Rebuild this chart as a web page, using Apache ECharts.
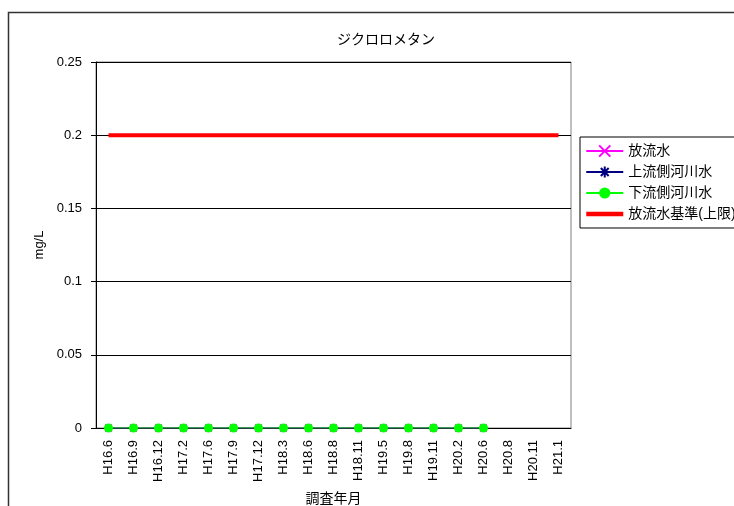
<!DOCTYPE html>
<html><head><meta charset="utf-8">
<script src="https://cdn.jsdelivr.net/npm/echarts@6/dist/echarts.min.js"></script>
<style>html,body{margin:0;padding:0;background:#fff}#c{width:734px;height:506px}</style>
</head><body><div id="c"></div>
<script>
const categories = ['H16.6','H16.9','H16.12','H17.2','H17.6','H17.9','H17.12','H18.3','H18.6','H18.8','H18.11','H19.5','H19.8','H19.11','H20.2','H20.6','H20.8','H20.11','H21.1'];
const effluent = [0,0,0,0,0,0,0,0,0,0,0,0,0,0,0,0,null,null,null];
const upstream = [0,0,0,0,0,0,0,0,0,0,0,0,0,0,0,0,null,null,null];
const downstream = [0,0,0,0,0,0,0,0,0,0,0,0,0,0,0,0,null,null,null];
const standard = [0.2,0.2,0.2,0.2,0.2,0.2,0.2,0.2,0.2,0.2,0.2,0.2,0.2,0.2,0.2,0.2,0.2,0.2,0.2];
const seriesNames = ['放流水','上流側河川水','下流側河川水','放流水基準(上限)'];
const yTicks = {min:0, max:0.25, interval:0.05};

const FONT = '"Liberation Sans", Arial, "Noto Sans CJK JP", sans-serif';
const chart = echarts.init(document.getElementById('c'));
chart.setOption({
  animation:false,
  textStyle:{fontFamily:FONT},
  title:{text:'ジクロロメタン', left:381, top:28, textAlign:'center',
    textStyle:{fontFamily:FONT, fontSize:14, fontWeight:'normal', color:'#000'}},
  graphic:[{type:'rect', shape:{x:8.5,y:12.5,width:800,height:600},
    style:{fill:'none', stroke:'#333', lineWidth:1.5}, silent:true, z:-1}],
  legend:{orient:'vertical', left:580, top:137, width:200,
    backgroundColor:'#fff', borderColor:'#000', borderWidth:1,
    padding:[7,6,7,4], itemWidth:37, itemHeight:14, itemGap:7,
    textStyle:{fontFamily:FONT, fontSize:14, color:'#000'},
    data:[seriesNames[0], seriesNames[1], seriesNames[2], {name:seriesNames[3], lineStyle:{width:4.5}}]},
  grid:{left:96, top:62, right:163, bottom:78, containLabel:false, outerBoundsMode:'none',
    show:true, borderColor:'#808080', borderWidth:1},
  xAxis:{type:'category', data:categories, boundaryGap:true,
    name:'調査年月', nameLocation:'middle', nameGap:64,
    nameTextStyle:{fontFamily:FONT, fontSize:14, color:'#000'},
    axisLine:{lineStyle:{color:'#000', width:1}},
    axisTick:{inside:true, length:4, lineStyle:{color:'#000'}},
    axisLabel:{rotate:90, interval:0, margin:12, fontSize:13, color:'#000', fontFamily:FONT},
    splitLine:{show:false}},
  yAxis:{type:'value', min:yTicks.min, max:yTicks.max, interval:yTicks.interval,
    name:'mg/L', nameLocation:'middle', nameGap:42,
    nameTextStyle:{fontFamily:FONT, fontSize:13, color:'#000'},
    axisLine:{show:true, lineStyle:{color:'#000', width:1}},
    axisTick:{show:true, length:5, lineStyle:{color:'#000'}},
    axisLabel:{fontSize:13, color:'#000', margin:14, fontFamily:FONT},
    splitLine:{lineStyle:{color:'#000', width:1}}},
  series:[
    {name:seriesNames[0], type:'line', data:effluent, symbol:'path://M0,0L10,10M10,0L0,10', symbolSize:7,
      lineStyle:{color:'#ff00ff', width:1}, itemStyle:{color:'#ff00ff', borderColor:'#ff00ff', borderWidth:1.2}, z:2},
    {name:seriesNames[1], type:'line', data:upstream, symbol:'path://M5,0L5,10M0,5L10,5M1.5,1.5L8.5,8.5M8.5,1.5L1.5,8.5', symbolSize:8,
      lineStyle:{color:'#000080', width:1}, itemStyle:{color:'#000080', borderColor:'#000080', borderWidth:1.2}, z:3},
    {name:seriesNames[2], type:'line', data:downstream, symbol:'circle', symbolSize:9,
      lineStyle:{color:'#00ff00', width:1}, itemStyle:{color:'#00ff00', borderColor:'#00ff00', borderWidth:0}, z:4},
    {name:seriesNames[3], type:'line', data:standard, symbol:'circle', showSymbol:false,
      lineStyle:{color:'#ff0000', width:4}, itemStyle:{color:'#ff0000', opacity:0}, z:5}
  ]
});
</script></body></html>
